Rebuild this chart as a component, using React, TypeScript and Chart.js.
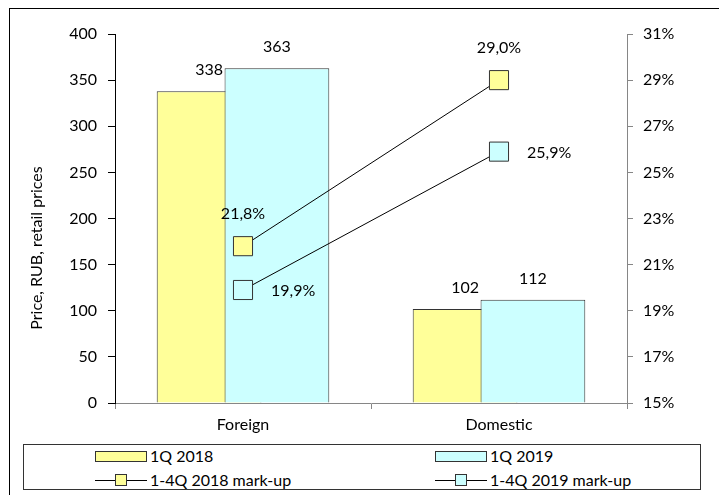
import React, { useEffect, useRef } from 'react';
import { Chart, registerables } from 'chart.js';

Chart.register(...registerables);

const categories = ['Foreign', 'Domestic'];
const price2018 = [338, 102];
const price2019 = [363, 112];
const markup2018 = [21.8, 29.0];
const markup2019 = [19.9, 25.9];
const seriesNames = ['1Q 2018', '1Q 2019', '1-4Q 2018 mark-up', '1-4Q 2019 mark-up'];
const yTitle = 'Price, RUB, retail prices';

const YELLOW = '#FFFF99';
const CYAN = '#CCFFFF';
const EDGE = '#333333';
const GRAY = '#868686';
const FONT = 'Lato, "DejaVu Sans", sans-serif';
const FS = 16;

const fmtPct = (v: number) => v.toFixed(1).replace('.', ',') + '%';

const layerPlugin = {
  id: 'layerOrder',
  beforeDatasetDraw(chart: any, args: any) {
    if (args.index === 0) return false;
    if (args.index === 1) chart.getDatasetMeta(0).controller.draw();
    return true;
  },
};

const labelPlugin = {
  id: 'valueLabels',
  afterDatasetsDraw(chart: any) {
    const ctx = chart.ctx;
    ctx.save();
    ctx.font = `${FS}px ${FONT}`;
    ctx.fillStyle = '#000';
    ctx.textAlign = 'center';
    ctx.textBaseline = 'middle';
    [0, 1].forEach((di) => {
      chart.getDatasetMeta(di).data.forEach((el: any, i: number) => {
        ctx.fillText(String(chart.data.datasets[di].data[i]), el.x, el.y - 21);
      });
    });
    chart.getDatasetMeta(2).data.forEach((el: any, i: number) => {
      ctx.fillText(fmtPct(markup2018[i]), el.x, el.y - 32);
    });
    ctx.textAlign = 'left';
    chart.getDatasetMeta(3).data.forEach((el: any, i: number) => {
      ctx.fillText(fmtPct(markup2019[i]), el.x + 28, el.y + 1);
    });
    ctx.textAlign = 'center';
    ctx.translate(37, 248);
    ctx.rotate(-Math.PI / 2);
    ctx.fillText(yTitle, 0, 0);
    ctx.restore();
  },
};

const legendItems = [
  { name: seriesNames[0], color: YELLOW, kind: 'bar', col: 0, row: 0 },
  { name: seriesNames[1], color: CYAN, kind: 'bar', col: 1, row: 0 },
  { name: seriesNames[2], color: YELLOW, kind: 'line', col: 0, row: 1 },
  { name: seriesNames[3], color: CYAN, kind: 'line', col: 1, row: 1 },
];

export default function App() {
  const ref = useRef<HTMLCanvasElement>(null);

  useEffect(() => {
    const chart = new Chart(ref.current as HTMLCanvasElement, {
      type: 'bar',
      data: {
        labels: categories,
        datasets: [
          {
            type: 'bar',
            label: seriesNames[0],
            data: price2018,
            backgroundColor: YELLOW,
            borderColor: EDGE,
            borderWidth: 1,
            categoryPercentage: 0.53,
            barPercentage: 1.544,
            yAxisID: 'y',
            order: 0,
          },
          {
            type: 'bar',
            label: seriesNames[1],
            data: price2019,
            backgroundColor: CYAN,
            borderColor: EDGE,
            borderWidth: 1,
            categoryPercentage: 0.53,
            barPercentage: 1.544,
            yAxisID: 'y',
            order: 0,
          },
          {
            type: 'line',
            label: seriesNames[2],
            data: markup2018,
            yAxisID: 'y1',
            borderColor: '#000',
            borderWidth: 1,
            pointStyle: 'rect',
            pointRadius: 13.5,
            pointBackgroundColor: YELLOW,
            pointBorderColor: EDGE,
            pointBorderWidth: 1,
            fill: false,
            order: -1,
          },
          {
            type: 'line',
            label: seriesNames[3],
            data: markup2019,
            yAxisID: 'y1',
            borderColor: '#000',
            borderWidth: 1,
            pointStyle: 'rect',
            pointRadius: 13.5,
            pointBackgroundColor: CYAN,
            pointBorderColor: EDGE,
            pointBorderWidth: 1,
            fill: false,
            order: -1,
          },
        ] as any,
      },
      options: {
        responsive: false,
        animation: false,
        devicePixelRatio: 1,
        layout: { padding: { top: 34, left: 0, right: 0, bottom: 0 } },
        plugins: {
          legend: { display: false },
          tooltip: { enabled: false },
        },
        scales: {
          x: {
            type: 'category',
            offset: true,
            grid: { offset: true, drawOnChartArea: false, tickLength: 6, color: GRAY },
            border: { color: GRAY },
            ticks: { font: { family: FONT, size: FS }, color: '#000', padding: 6 },
            afterFit: (s: any) => { s.height = 37; },
          },
          y: {
            position: 'left',
            min: 0,
            max: 400,
            ticks: { stepSize: 50, font: { family: FONT, size: FS }, color: '#000', padding: 11 },
            grid: { drawOnChartArea: false, tickLength: 7, color: '#000' },
            border: { color: '#000' },
            afterFit: (s: any) => { s.width = 115; },
          },
          y1: {
            position: 'right',
            min: 15,
            max: 31,
            ticks: {
              stepSize: 2,
              font: { family: FONT, size: FS },
              color: '#000',
              padding: 10,
              callback: (v: any) => v + '%',
            },
            grid: { drawOnChartArea: false, tickLength: 6, color: GRAY },
            border: { color: GRAY },
            afterFit: (s: any) => { s.width = 92; },
          },
        } as any,
      },
      plugins: [layerPlugin, labelPlugin] as any,
    });
    return () => chart.destroy();
  }, []);

  return (
    <div
      style={{
        position: 'fixed',
        left: 0,
        top: 0,
        width: 719,
        height: 495,
        overflow: 'hidden',
        background: '#fff',
        fontFamily: FONT,
        fontSize: FS,
        color: '#000',
      }}
    >
      <div
        style={{
          position: 'absolute',
          left: 9,
          top: 8,
          width: 800,
          height: 600,
          border: '1px solid #000',
          boxSizing: 'border-box',
        }}
      />
      <canvas ref={ref} width={719} height={440} style={{ position: 'absolute', left: 0, top: 0 }} />
      <div
        style={{
          position: 'absolute',
          left: 23,
          top: 444,
          width: 678,
          height: 46,
          border: `1px solid ${EDGE}`,
          boxSizing: 'border-box',
          background: '#fff',
        }}
      />
      {legendItems.map((it) => {
        const x0 = 95 + it.col * 340;
        const cy = 456 + it.row * 23.5;
        return (
          <React.Fragment key={it.name}>
            {it.kind === 'bar' ? (
              <div
                style={{
                  position: 'absolute',
                  left: x0,
                  top: cy - 5,
                  width: 52,
                  height: 11,
                  background: it.color,
                  border: `1px solid ${EDGE}`,
                  boxSizing: 'border-box',
                }}
              />
            ) : (
              <>
                <div style={{ position: 'absolute', left: x0, top: cy, width: 52, height: 1, background: '#000' }} />
                <div
                  style={{
                    position: 'absolute',
                    left: x0 + 20,
                    top: cy - 6,
                    width: 12,
                    height: 12,
                    background: it.color,
                    border: `1px solid ${EDGE}`,
                    boxSizing: 'border-box',
                  }}
                />
              </>
            )}
            <div
              style={{
                position: 'absolute',
                left: x0 + 55,
                top: cy - 10,
                height: 20,
                lineHeight: '20px',
                whiteSpace: 'nowrap',
              }}
            >
              {it.name}
            </div>
          </React.Fragment>
        );
      })}
    </div>
  );
}
